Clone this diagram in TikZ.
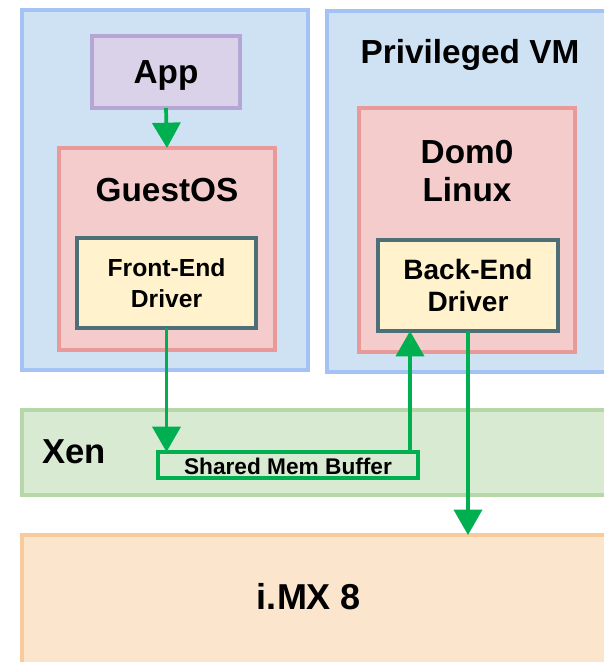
\documentclass[tikz,border=0pt]{standalone}
\usepackage{fontspec}
\setmainfont{Liberation Sans}
\usetikzlibrary{arrows.meta,fit}
\definecolor{vmfill}{HTML}{CFE2F3}
\definecolor{vmdraw}{HTML}{A4C2F4}
\definecolor{appfill}{HTML}{D9D2E9}
\definecolor{appdraw}{HTML}{B4A7D6}
\definecolor{osfill}{HTML}{F4CCCC}
\definecolor{osdraw}{HTML}{EA9999}
\definecolor{drvfill}{HTML}{FFF2CC}
\definecolor{drvdraw}{HTML}{4F6F78}
\definecolor{xenfill}{HTML}{D9EAD3}
\definecolor{xendraw}{HTML}{B6D7A8}
\definecolor{imxfill}{HTML}{FCE5CD}
\definecolor{imxdraw}{HTML}{F9CB9C}
\definecolor{arrgreen}{HTML}{00B050}
\tikzset{
  base/.style={inner sep=0pt, outer sep=0pt, line width=2.4pt, rectangle},
  vmbox/.style={base, draw=vmdraw, fill=vmfill},
  appbox/.style={base, draw=appdraw, fill=appfill},
  osbox/.style={base, draw=osdraw, fill=osfill},
  drvbox/.style={base, draw=drvdraw, fill=drvfill},
  xenbox/.style={base, draw=xendraw, fill=xenfill},
  imxbox/.style={base, draw=imxdraw, fill=imxfill},
  shmbox/.style={base, draw=arrgreen, line width=2.4pt},
  lbl/.style={inner sep=0pt, font=\bfseries, align=center},
  arr/.style={draw=arrgreen, line width=2.8pt, -{Triangle[width=21pt,length=19pt]}},
}
\begin{document}
\begin{tikzpicture}[x=0.75pt,y=-0.75pt]
\useasboundingbox (0,0) rectangle (604,662);
\clip (0,0) rectangle (604,662);
% VMs
\node[vmbox, fit={(22,10) (308,370)}] (vm1) {};
\node[vmbox, fit={(327,11) (640,372)}] (vm2) {};
\node[lbl, font=\fontsize{25}{30}\selectfont\bfseries] (pvm) at (470,55) {Privileged VM};
% Guest
\node[appbox, fit={(92,36) (240,108)}] (app) {};
\node[lbl, font=\fontsize{25}{30}\selectfont\bfseries] (apptxt) at (166,75) {App};
\node[osbox, fit={(59,148) (275,350)}] (guest) {};
\node[lbl, font=\fontsize{25}{30}\selectfont\bfseries] (guesttxt) at (167,190) {GuestOS};
\node[drvbox, fit={(77,238) (256,328)}] (fe) {};
\node[lbl, font=\fontsize{18.5}{23}\selectfont\bfseries] (fetxt) at (fe.center) {Front-End\\Driver};
% Dom0
\node[osbox, fit={(359,108) (575,352)}] (dom0) {};
\node[lbl, font=\fontsize{25}{29}\selectfont\bfseries] (dom0txt) at (467,171) {Dom0\\Linux};
\node[drvbox, fit={(378,240) (558,331)}] (be) {};
\node[lbl, font=\fontsize{21}{24}\selectfont\bfseries] (betxt) at (be.center) {Back-End\\Driver};
% Xen
\node[xenbox, fit={(22,410) (640,495)}] (xen) {};
\node[lbl, font=\fontsize{26}{30}\selectfont\bfseries] (xentxt) at (74,452) {Xen};
\node[shmbox, fit={(158,452) (418,478)}] (shm) {};
\node[lbl, font=\fontsize{17}{20}\selectfont\bfseries] (shmtxt) at (288,466) {Shared Mem Buffer};
% i.MX 8
\node[imxbox, fit={(22,535) (640,690)}] (imx) {};
\node[lbl, font=\fontsize{27}{30}\selectfont\bfseries] (imxtxt) at (309,597) {i.MX 8};
% connectors
\coordinate (upx) at (410,0);
\draw[arr] (app.south) -- (guest.north);
\draw[arr] (fe.south) -- (fe.south |- shm.north);
\draw[arr] (shm.north -| upx) -- (be.south -| upx);
\draw[arr] (be.south) -- (be.south |- imx.north);
\end{tikzpicture}
\end{document}
